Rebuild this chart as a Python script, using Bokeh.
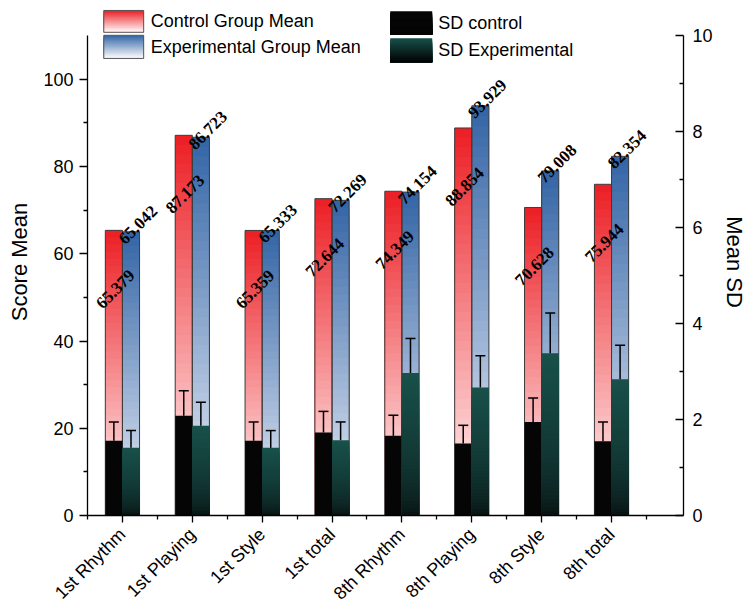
import math
from bokeh.plotting import figure
from bokeh.models import Range1d, LinearAxis, FixedTicker, ColumnDataSource
from bokeh.core.properties import value
from bokeh.embed import file_html
from bokeh.resources import INLINE

# ---------------- data ----------------
categories = ["1st Rhythm", "1st Playing", "1st Style", "1st total",
              "8th Rhythm", "8th Playing", "8th Style", "8th total"]
control_mean = [65.379, 87.173, 65.359, 72.644, 74.349, 88.854, 70.628, 75.944]
exp_mean = [65.042, 86.723, 65.333, 72.269, 74.154, 93.929, 79.008, 82.354]
sd_control = [1.56, 2.08, 1.56, 1.73, 1.66, 1.50, 1.95, 1.55]
sd_control_err = [0.39, 0.52, 0.39, 0.44, 0.43, 0.38, 0.50, 0.40]
sd_exp = [1.41, 1.87, 1.41, 1.57, 2.97, 2.67, 3.38, 2.84]
sd_exp_err = [0.36, 0.49, 0.36, 0.38, 0.72, 0.66, 0.84, 0.71]
left_ticks = [0, 20, 40, 60, 80, 100]
right_ticks = [0, 2, 4, 6, 8, 10]

# ---------------- style ----------------
SANS = value("Liberation Sans")
SERIF = value("Liberation Serif")
RED_TOP, RED_BOT = (236, 30, 36), (255, 250, 250)
BLUE_TOP, BLUE_BOT = (50, 100, 165), (236, 240, 248)
TEAL_TOP, TEAL_BOT = (24, 80, 74), (6, 12, 12)
BLACK = (5, 5, 5)
BW = 0.245
NSLICE = 40

X0, X1 = -0.5, 8.03
Y_TOP = 116.25
SD_TOP = Y_TOP / 11.0


def mix(c0, c1, t):
    t = max(0.0, min(1.0, t))
    r, g, b = (int(round(a + (bb - a) * t)) for a, bb in zip(c0, c1))
    return "#%02x%02x%02x" % (r, g, b)


def gradient(lefts, rights, bottoms, tops, c_top, c_bot, n=NSLICE, gamma=1.0):
    L, R, B, T, C = [], [], [], [], []
    for l, r, b, t in zip(lefts, rights, bottoms, tops):
        for k in range(n):
            frac = 1 - k / n
            tm = frac - 0.5 / n
            L.append(l); R.append(r); B.append(b)
            T.append(b + (t - b) * frac)
            C.append(mix(c_bot, c_top, tm ** gamma))
    return ColumnDataSource(dict(left=L, right=R, bottom=B, top=T, color=C))


n = len(categories)
xs = list(range(n))
red_l = [x - BW for x in xs]
red_r = list(xs)
blue_l = list(xs)
blue_r = [x + BW for x in xs]

p = figure(width=749, height=613, output_backend="svg", toolbar_location=None,
           x_range=Range1d(X0, X1), y_range=Range1d(0, Y_TOP),
           min_border_left=87, min_border_right=65, min_border_top=8,
           min_border_bottom=97)
p.extra_y_ranges = {"sd": Range1d(0, SD_TOP)}
p.outline_line_color = None
p.grid.visible = False
p.background_fill_color = "white"

# mean bars (gradient)
p.quad(left="left", right="right", bottom="bottom", top="top", fill_color="color",
       line_color=None, source=gradient(red_l, red_r, [0] * n, control_mean, RED_TOP, RED_BOT))
p.quad(left="left", right="right", bottom="bottom", top="top", fill_color="color",
       line_color=None, source=gradient(blue_l, blue_r, [0] * n, exp_mean, BLUE_TOP, BLUE_BOT))
p.quad(left=red_l, right=red_r, bottom=0, top=control_mean, fill_color=None,
       line_color="#3c3c3c", line_width=1)
p.quad(left=blue_l, right=blue_r, bottom=0, top=exp_mean, fill_color=None,
       line_color="#3c3c3c", line_width=1)

# SD bars
p.quad(left=red_l, right=red_r, bottom=0, top=sd_control, fill_color=mix(BLACK, BLACK, 0),
       line_color=None, y_range_name="sd")
p.quad(left="left", right="right", bottom="bottom", top="top", fill_color="color",
       line_color=None, y_range_name="sd",
       source=gradient(blue_l, blue_r, [0] * n, sd_exp, TEAL_TOP, TEAL_BOT, gamma=0.5))

# error bars (upper only)
cx_red = [x - BW / 2 for x in xs]
cx_blue = [x + BW / 2 for x in xs]
top_c = [s + e for s, e in zip(sd_control, sd_control_err)]
top_e = [s + e for s, e in zip(sd_exp, sd_exp_err)]
p.segment(x0=cx_red, y0=sd_control, x1=cx_red, y1=top_c, line_color="black",
          line_width=1.5, y_range_name="sd")
p.segment(x0=cx_blue, y0=sd_exp, x1=cx_blue, y1=top_e, line_color="black",
          line_width=1.5, y_range_name="sd")
p.scatter(x=cx_red, y=top_c, marker="dash", size=10, line_color="black",
          line_width=1.5, y_range_name="sd")
p.scatter(x=cx_blue, y=top_e, marker="dash", size=10, line_color="black",
          line_width=1.5, y_range_name="sd")

# value labels
p.text(x=[c + 0.02 for c in cx_red], y=[v - 13.5 for v in control_mean],
       text=["%.3f" % v for v in control_mean],
       angle=math.pi / 4, text_align="center", text_baseline="middle",
       text_font=SERIF, text_font_style="bold", text_font_size="17px", text_color="black")
p.text(x=[c + 0.1 for c in cx_blue], y=[v + 1.6 for v in exp_mean],
       text=["%.3f" % v for v in exp_mean],
       angle=math.pi / 4, text_align="center", text_baseline="middle",
       text_font=SERIF, text_font_style="bold", text_font_size="17px", text_color="black")

# legend (drawn manually to show gradients)
lg = [(-0.267, 0.304, 110.8, 115.8, RED_TOP, (255, 255, 255), 1.0),
      (-0.267, 0.304, 104.8, 110.1, BLUE_TOP, (255, 255, 255), 1.0),
      (3.833, 4.433, 110.3, 115.6, BLACK, BLACK, 1.0),
      (3.833, 4.433, 103.9, 109.4, TEAL_TOP, (0, 0, 0), 1.0)]
for (l, r, b, t, ct, cb, g) in lg:
    p.quad(left="left", right="right", bottom="bottom", top="top", fill_color="color",
           line_color=None, source=gradient([l], [r], [b], [t], ct, cb, n=20, gamma=g))
p.quad(left=[v[0] for v in lg[:2]], right=[v[1] for v in lg[:2]],
       bottom=[v[2] for v in lg[:2]], top=[v[3] for v in lg[:2]],
       fill_color=None, line_color="#555555", line_width=1)
legend_names = ["Control Group Mean", "Experimental Group Mean", "SD control", "SD Experimental"]
p.text(x=[0.404, 0.404, 4.519, 4.519], y=[113.3, 107.5, 113.0, 106.8], text=legend_names,
       text_align="left", text_baseline="middle", text_font=SANS,
       text_font_size="18px", text_color="black")

# axes
ax_common = dict(axis_line_color="black", axis_line_width=1.3,
                 major_tick_line_color="black", minor_tick_line_color="black",
                 major_tick_line_width=1.3, minor_tick_line_width=1.3,
                 major_label_text_font="Liberation Sans", major_label_text_font_size="18px",
                 major_label_text_color="black",
                 axis_label_text_font="Liberation Sans", axis_label_text_font_size="22px",
                 axis_label_text_font_style="normal", axis_label_text_color="black")

yl = p.left[0]
yl.ticker = FixedTicker(ticks=left_ticks, minor_ticks=[10, 30, 50, 70, 90])
yl.bounds = (0, 110)
yl.axis_label = "Score Mean"
for k, v in ax_common.items():
    setattr(yl, k, v)
yl.major_tick_out = 8
yl.major_tick_in = 0
yl.minor_tick_out = 4
yl.minor_tick_in = 0
yl.major_label_standoff = 6
yl.axis_label_standoff = 8

yr = LinearAxis(y_range_name="sd", axis_label="Mean SD",
                ticker=FixedTicker(ticks=right_ticks, minor_ticks=[1, 3, 5, 7, 9]))
for k, v in ax_common.items():
    setattr(yr, k, v)
yr.bounds = (0, 10)
yr.major_tick_out = 0
yr.major_tick_in = 8
yr.minor_tick_out = 0
yr.minor_tick_in = 4
yr.major_label_standoff = 9
yr.axis_label_standoff = 6
p.add_layout(yr, "right")

xa = p.below[0]
xa.ticker = FixedTicker(ticks=xs, minor_ticks=[i - 0.5 for i in range(n + 1)])
xa.major_label_overrides = {i: c for i, c in zip(xs, categories)}
for k, v in ax_common.items():
    setattr(xa, k, v)
xa.major_label_orientation = math.pi / 4
xa.major_label_standoff = 9
xa.major_tick_out = 7
xa.major_tick_in = 0
xa.minor_tick_out = 4
xa.minor_tick_in = 0

open("out.html", "w").write(file_html(p, INLINE))
